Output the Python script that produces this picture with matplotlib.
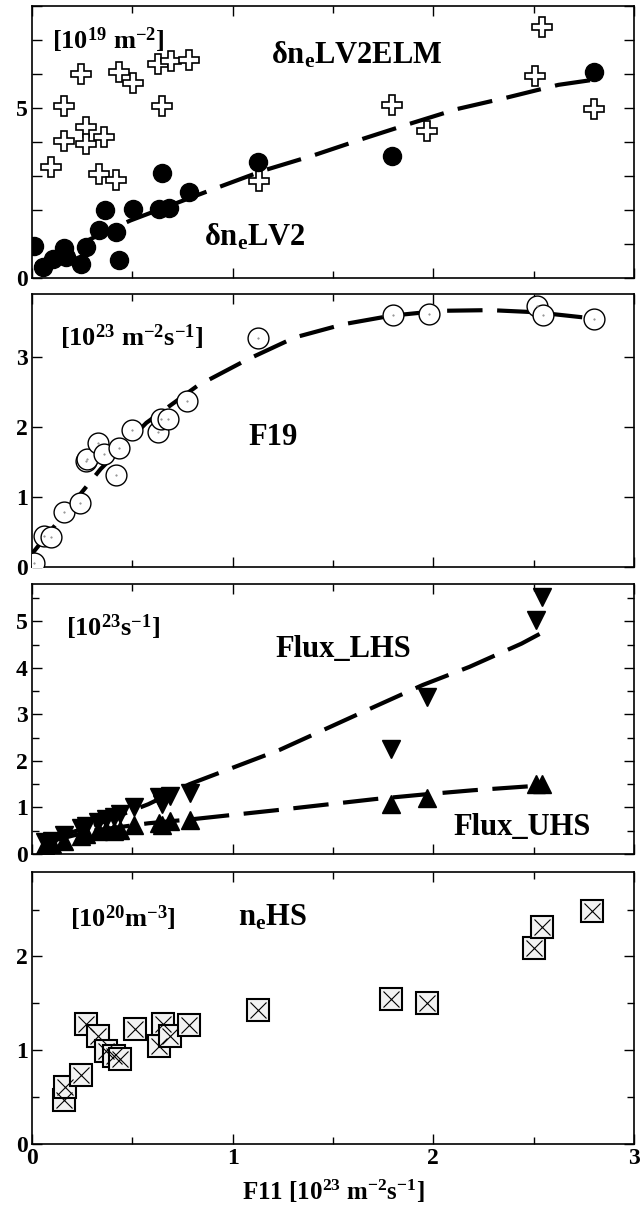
import numpy as np
import matplotlib
matplotlib.use("Agg")
from matplotlib import pyplot as plt
from matplotlib.ticker import MultipleLocator

plt.rcParams['font.family'] = ['Liberation Serif', 'DejaVu Serif']
plt.rcParams['font.weight'] = 'bold'
plt.rcParams['mathtext.fontset'] = 'custom'
plt.rcParams['mathtext.rm'] = 'Liberation Serif:bold'
plt.rcParams['mathtext.it'] = 'Liberation Serif:bold'
plt.rcParams['mathtext.bf'] = 'Liberation Serif:bold'

# panel 1: delta n_e LV2 (filled circles) and LV2ELM (open crosses)
lv2_x = [0.012, 0.054, 0.104, 0.157, 0.17, 0.245, 0.27, 0.336, 0.366, 0.419, 0.435,
         0.502, 0.634, 0.684, 0.78, 0.647, 1.127, 1.796, 2.80]
lv2_y = [0.93, 0.32, 0.57, 0.89, 0.62, 0.42, 0.91, 1.40, 2.01, 1.35, 0.54,
         2.04, 2.04, 2.07, 2.53, 3.10, 3.40, 3.60, 6.07]
elm_x = [0.095, 0.16, 0.16, 0.245, 0.27, 0.27, 0.36, 0.336, 0.419, 0.435, 0.502,
         0.626, 0.647, 0.692, 0.783, 1.13, 1.796, 1.97, 2.507, 2.544, 2.80]
elm_y = [3.26, 5.05, 4.03, 5.99, 4.44, 3.93, 4.15, 3.07, 2.89, 6.06, 5.72,
         6.30, 5.05, 6.37, 6.42, 2.86, 5.09, 4.31, 5.95, 7.37, 4.97]
fit1_x = [0.02, 0.49, 0.907, 1.154, 1.40, 1.648, 1.864, 2.12, 2.37, 2.624, 2.80]
fit1_y = [0.40, 1.69, 2.62, 3.16, 3.60, 4.09, 4.50, 4.97, 5.31, 5.68, 5.83]

# panel 2: F19
f19_x = [0.008, 0.062, 0.095, 0.16, 0.24, 0.27, 0.275, 0.33, 0.36, 0.435, 0.42,
         0.50, 0.63, 0.645, 0.68, 0.775, 1.127, 1.80, 1.977, 2.516, 2.545, 2.80]
f19_y = [0.06, 0.44, 0.43, 0.78, 0.92, 1.51, 1.55, 1.77, 1.61, 1.70, 1.32,
         1.96, 1.93, 2.11, 2.12, 2.37, 3.27, 3.60, 3.61, 3.73, 3.60, 3.54]
fit2_x = [0.003, 0.342, 0.57, 0.825, 1.07, 1.31, 1.555, 1.79, 2.03, 2.285, 2.51, 2.80]
fit2_y = [0.20, 1.40, 2.06, 2.59, 2.96, 3.28, 3.47, 3.59, 3.66, 3.67, 3.64, 3.55]

# panel 3: Flux LHS / UHS
flux_x = [0.065, 0.10, 0.157, 0.245, 0.27, 0.33, 0.37, 0.41, 0.44, 0.51, 0.635,
          0.65, 0.69, 0.785, 1.79, 1.97, 2.51, 2.54]
lhs_y = [0.25, 0.28, 0.40, 0.55, 0.60, 0.68, 0.76, 0.80, 0.87, 1.00, 1.23,
         1.08, 1.25, 1.32, 2.26, 3.38, 5.02, 5.53]
uhs_y = [0.20, 0.22, 0.28, 0.38, 0.44, 0.50, 0.52, 0.50, 0.52, 0.62, 0.66,
         0.62, 0.71, 0.73, 1.07, 1.21, 1.50, 1.51]
fit_lhs_x = [0.07, 0.30, 0.58, 0.785, 1.236, 1.71, 1.947, 2.18, 2.44, 2.54]
fit_lhs_y = [0.30, 0.60, 1.07, 1.50, 2.24, 3.17, 3.63, 4.02, 4.52, 4.75]
fit_uhs_x = [0.07, 0.30, 0.58, 0.805, 1.216, 1.71, 1.956, 2.20, 2.53]
fit_uhs_y = [0.25, 0.50, 0.66, 0.75, 0.94, 1.18, 1.28, 1.37, 1.47]

# panel 4: n_e HS
nehs_x = [0.157, 0.163, 0.245, 0.27, 0.331, 0.368, 0.41, 0.44, 0.511, 0.634, 0.652,
          0.689, 0.781, 1.125, 1.789, 1.967, 2.503, 2.54, 2.789]
nehs_y = [0.47, 0.61, 0.74, 1.28, 1.15, 0.99, 0.94, 0.91, 1.23, 1.05, 1.28,
          1.15, 1.27, 1.43, 1.55, 1.50, 2.09, 2.31, 2.48]

fig = plt.figure(figsize=(6.43, 12.16), dpi=100)
L, W = 0.0498, 0.936
ax1 = fig.add_axes([L, 0.7714, W, 0.2237])
ax2 = fig.add_axes([L, 0.5337, W, 0.2245])
ax3 = fig.add_axes([L, 0.2977, W, 0.2220])
ax4 = fig.add_axes([L, 0.0592, W, 0.2237])

dash = dict(color='black', lw=3, dashes=(8.5, 3.5), zorder=3)

for ax in (ax1, ax2, ax3, ax4):
    ax.set_xlim(0, 3)
    ax.xaxis.set_major_locator(MultipleLocator(1))
    ax.xaxis.set_minor_locator(MultipleLocator(0.5))
    ax.tick_params(which='both', direction='in', top=True, right=True,
                   labelsize=17, width=1.0, pad=3)
    ax.tick_params(which='major', length=7)
    ax.tick_params(which='minor', length=5)
    for s in ax.spines.values():
        s.set_linewidth(1.2)
    if ax is not ax4:
        ax.tick_params(labelbottom=False)

# panel 1
ax1.plot(fit1_x, fit1_y, **dash)
ax1.plot(elm_x, elm_y, 'P', ms=15, mfc='white', mec='black', mew=1.2, zorder=4)
ax1.plot(lv2_x, lv2_y, 'o', ms=13, color='black', zorder=5)
ax1.set_ylim(0, 8)
ax1.set_yticks(range(0, 9))
ax1.set_yticklabels(['0', '', '', '', '', '5', '', '', ''])
ax1.text(0.033, 0.875, '[10$^{19}$ m$^{-2}$]', transform=ax1.transAxes,
         fontsize=19, ha='left', va='center')
ax1.text(0.54, 0.82, 'δn$_\\mathregular{e}$LV2ELM', transform=ax1.transAxes,
         fontsize=22, ha='center', va='center')
ax1.text(0.37, 0.15, 'δn$_\\mathregular{e}$LV2', transform=ax1.transAxes,
         fontsize=22, ha='center', va='center')

# panel 2
ax2.plot(fit2_x, fit2_y, **dash)
ax2.plot(f19_x, f19_y, 'o', ms=15, mfc='white', mec='black', mew=1.0, zorder=4)
ax2.plot(f19_x, f19_y, '.', ms=1, color='gray', zorder=5)
ax2.set_ylim(0, 3.9)
ax2.set_yticks([0, 1, 2, 3])
ax2.text(0.047, 0.842, '[10$^{23}$ m$^{-2}$s$^{-1}$]', transform=ax2.transAxes,
         fontsize=19, ha='left', va='center')
ax2.text(0.40, 0.476, 'F19', transform=ax2.transAxes,
         fontsize=22, ha='center', va='center')

# panel 3
ax3.plot(fit_lhs_x, fit_lhs_y, **dash)
ax3.plot(fit_uhs_x, fit_uhs_y, **dash)
ax3.plot(flux_x, lhs_y, 'v', ms=13, color='black', zorder=4)
ax3.plot(flux_x, uhs_y, '^', ms=13, color='black', zorder=4)
ax3.set_ylim(0, 5.8)
ax3.set_yticks(range(0, 6))
ax3.yaxis.set_minor_locator(MultipleLocator(0.5))
ax3.text(0.056, 0.84, '[10$^{23}$s$^{-1}$]', transform=ax3.transAxes,
         fontsize=19, ha='left', va='center')
ax3.text(0.517, 0.756, 'Flux_LHS', transform=ax3.transAxes,
         fontsize=22, ha='center', va='center')
ax3.text(0.814, 0.10, 'Flux_UHS', transform=ax3.transAxes,
         fontsize=22, ha='center', va='center')

# panel 4
ax4.plot(nehs_x, nehs_y, 's', ms=16, mfc='#f2f2f2', mec='black', mew=1.5, zorder=4)
ax4.plot(nehs_x, nehs_y, 'x', ms=11, color='black', mew=0.8, zorder=5)
ax4.set_ylim(0, 2.9)
ax4.set_yticks([0, 1, 2])
ax4.yaxis.set_minor_locator(MultipleLocator(0.5))
ax4.text(0.063, 0.83, '[10$^{20}$m$^{-3}$]', transform=ax4.transAxes,
         fontsize=19, ha='left', va='center')
ax4.text(0.40, 0.83, 'n$_\\mathregular{e}$HS', transform=ax4.transAxes,
         fontsize=22, ha='center', va='center')
ax4.set_xlabel('F11 [10$^{23}$ m$^{-2}$s$^{-1}$]', fontsize=18,
               fontweight='bold', labelpad=6)

plt.savefig('out.png', dpi=100)
